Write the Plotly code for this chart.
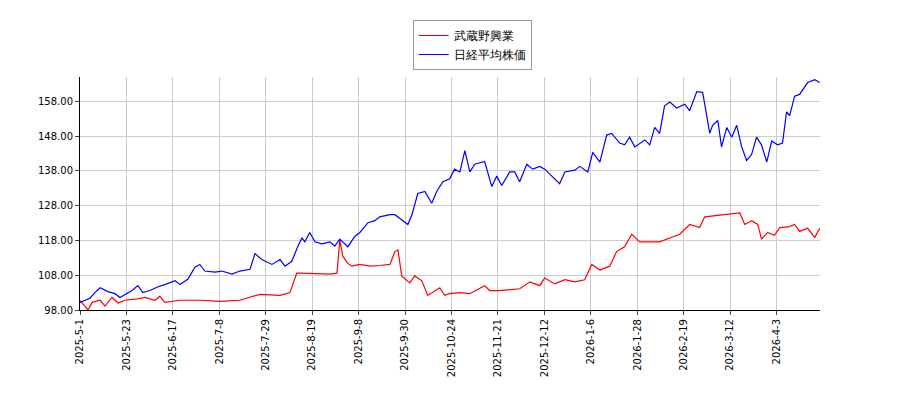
import plotly.graph_objects as go

tick_labels = ["2025-5-1","2025-5-23","2025-6-17","2025-7-8","2025-7-29","2025-8-19","2025-9-8","2025-9-30",
               "2025-10-24","2025-11-21","2025-12-12","2026-1-6","2026-1-28","2026-2-19","2026-3-12","2026-4-3"]
tick_pos = [i*15 for i in range(len(tick_labels))]

blue_x = [0,3.2,4.8,6.5,9,11.3,12.9,14.5,16.8,18.7,20.3,22.6,25.2,27.4,30.7,32.3,34.9,37.1,38.7,40.3,43.6,45.8,49.1,51.6,54.9,56.5,58.7,62,64.6,66.2,68.4,70.4,71.7,72.6,74.2,75.9,78.1,80.7,82.3,83.9,86.5,88.8,90.4,93,95.2,96.8,100.1,101.7,103.3,105.9,107.2,109.1,111.4,113.6,115.2,117.2,119.4,121,122.7,124.3,125.9,127.5,130.7,133,134.6,136.2,138.8,140.4,142,144.3,146.2,148.5,150.1,151.7,153.3,154.9,156.6,159.8,161.4,164,165.6,167.9,170.1,171.7,174.3,175.9,177.5,179.2,182.4,184,185.6,187.2,188.8,190.5,192.7,195.3,196.9,199.2,201.1,203.4,204.3,206,207.2,208.9,210.5,212.1,213.7,215.3,216.9,218.5,220.1,221.8,223.4,225.3,226.9,228.2,229.2,230.8,232.4,235,237.3,238.9]
blue_y = [100.2,101.4,103.0,104.4,103.3,102.7,101.6,102.5,103.6,105.0,103.0,103.6,104.7,105.3,106.4,105.3,106.9,110.3,111.1,109.2,108.9,109.2,108.3,109.2,109.7,114.2,112.5,111.1,112.5,110.6,112.0,116.4,118.7,117.6,120.3,117.6,117.0,117.6,116.4,118.4,116.2,119.2,120.3,123.1,123.7,124.8,125.4,125.4,124.3,122.6,125.4,131.5,132.1,128.7,132.1,134.9,135.7,138.5,137.7,143.8,137.7,139.9,140.7,133.5,136.5,133.8,137.7,137.7,134.9,139.9,138.5,139.3,138.5,137.1,135.7,134.3,137.7,138.2,139.3,137.7,143.3,140.5,148.3,148.8,146.0,145.5,147.7,144.9,146.9,145.5,150.5,148.8,156.7,157.8,156.1,157.2,155.3,160.8,160.6,148.8,151.1,152.5,144.9,150.5,147.7,151.1,144.9,141.0,142.7,147.7,145.5,140.5,146.6,145.5,146.0,155.0,153.9,159.5,160.0,163.4,164.2,163.4]

red_x = [0,2.6,3.9,6.5,8.1,10.3,12.3,14.5,17.8,21,24.2,25.8,27.4,32.3,38.7,45.2,51.6,54.9,58.1,64.6,67.8,70,71,80.7,83,83.9,84.9,86.5,87.8,90.4,93.6,96.8,100.1,101.7,102.7,103.9,106.5,108.1,110.4,112.3,114.6,116.2,117.8,119.4,122.7,125.9,130.7,132.3,135.6,142,145.3,148.5,150.1,153.3,156.6,159.8,163,165.3,167.9,171.1,173.3,175.9,178.2,180.8,184,187.2,190.5,193.7,196.9,200.1,201.8,205,206.6,209.8,213.1,214.7,216.9,218.9,220.1,222.1,224.3,226,229.2,230.8,232.4,235,237.3,238.9]
red_y = [100.8,98,100.2,100.8,99.1,101.6,100,100.8,101.1,101.6,100.8,101.9,100.2,100.8,100.8,100.5,100.8,101.6,102.5,102.2,103,108.6,108.6,108.3,108.6,118.1,113.4,111.4,110.6,111.1,110.6,110.8,111.1,114.8,115.3,107.8,105.8,107.8,106.4,102.2,103.6,104.4,102.2,102.7,103,102.7,105,103.6,103.6,104.1,106.1,105,107.2,105.5,106.7,106.1,106.7,111.1,109.5,110.6,114.8,116.2,119.8,117.6,117.6,117.6,118.7,119.8,122.6,121.7,124.8,125.1,125.4,125.6,125.9,122.6,123.7,122.6,118.4,120.3,119.5,121.7,122,122.6,120.6,121.5,118.9,121.5]

y_ticks = [98,108,118,128,138,148,158]

fig = go.Figure()
fig.add_trace(go.Scatter(x=red_x, y=red_y, mode="lines", name="武蔵野興業", line=dict(color="#ff0000", width=1.2)))
fig.add_trace(go.Scatter(x=blue_x, y=blue_y, mode="lines", name="日経平均株価", line=dict(color="#0000ff", width=1.2)))
fig.update_layout(
    width=884, height=384, margin=dict(l=72, r=72, t=62, b=82),
    plot_bgcolor="white", paper_bgcolor="white",
    font=dict(family="DejaVu Sans", size=10, color="black"),
    legend=dict(x=0.53, xanchor="center", y=1.03, yanchor="bottom", bordercolor="#999", borderwidth=1,
                font=dict(size=12)),
    xaxis=dict(range=[0, 239], tickvals=tick_pos, ticktext=tick_labels, tickangle=-90,
               showgrid=True, gridcolor="#cccccc", showline=True, linecolor="black", ticks="outside", ticklen=4, zeroline=False),
    yaxis=dict(range=[98, 165], tickvals=y_ticks, ticktext=[f"{v:.2f}" for v in y_ticks],
               showgrid=True, gridcolor="#cccccc", showline=True, linecolor="black", ticks="outside", ticklen=4, zeroline=False),
)
fig.write_html("out.html")
